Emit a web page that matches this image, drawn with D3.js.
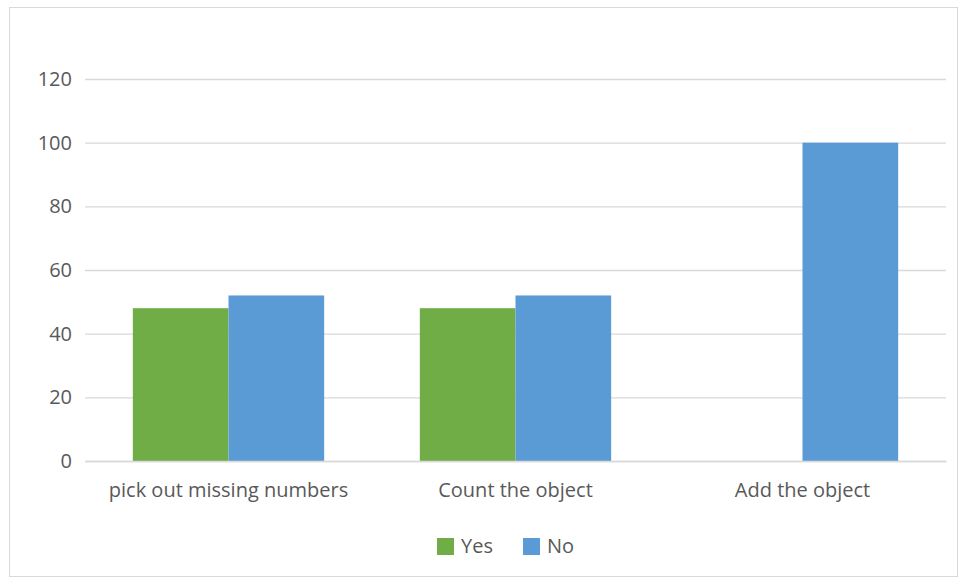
<!DOCTYPE html>
<html>
<head>
<meta charset="utf-8">
<script src="https://cdn.jsdelivr.net/npm/d3@7"></script>
<style>
  html, body { margin: 0; padding: 0; background: #fff; }
  text { font-family: "Open Sans", "Noto Sans", sans-serif; fill: #595959; }
</style>
</head>
<body>
<svg id="chart" width="961" height="579"></svg>
<script>
const categories = ["pick out missing numbers", "Count the object", "Add the object"];
const seriesNames = ["Yes", "No"];
const yesValues = [48, 48, 0];
const noValues = [52, 52, 100];
const yTicks = [0, 20, 40, 60, 80, 100, 120];
const colors = ["#70ad47", "#5b9bd5"];

const svg = d3.select("#chart");

// outer chart frame
svg.append("rect")
  .attr("x", 9.5).attr("y", 7.5)
  .attr("width", 948).attr("height", 569)
  .attr("fill", "#fff").attr("stroke", "#d9d9d9").attr("stroke-width", 1);

const plot = { left: 85, right: 946, top: 79, bottom: 461 };

const x0 = d3.scaleBand().domain(categories).range([plot.left, plot.right]).paddingInner(0).paddingOuter(0);
const x1 = d3.scaleBand().domain(seriesNames).range([0, x0.bandwidth()]).paddingInner(0).paddingOuter(0.5);
const y = d3.scaleLinear().domain([0, 120]).range([plot.bottom, plot.top]);

// horizontal gridlines with value labels
const yAxis = d3.axisLeft(y).tickValues(yTicks).tickSize(-(plot.right - plot.left)).tickPadding(13);
const gy = svg.append("g").attr("transform", `translate(${plot.left},0)`).call(yAxis);
gy.select(".domain").remove();
gy.selectAll(".tick line").attr("stroke", "#d9d9d9").attr("stroke-width", 1.3);
gy.selectAll(".tick text").attr("font-size", 20).style("fill", "#595959");

// bars
const rows = categories.map((c, i) => ({ cat: c, vals: [yesValues[i], noValues[i]] }));
const groups = svg.append("g").selectAll("g").data(rows).join("g")
  .attr("transform", d => `translate(${x0(d.cat)},0)`);
groups.selectAll("rect")
  .data(d => d.vals.map((v, k) => ({ name: seriesNames[k], v, k })))
  .join("rect")
  .attr("x", d => x1(d.name))
  .attr("width", x1.bandwidth())
  .attr("y", d => y(d.v))
  .attr("height", d => y(0) - y(d.v))
  .attr("fill", d => colors[d.k]);

// category axis
const xAxis = d3.axisBottom(x0).tickSize(0).tickPadding(22);
const gx = svg.append("g").attr("transform", `translate(0,${plot.bottom})`).call(xAxis);
gx.select(".domain").attr("stroke", "#d9d9d9").attr("stroke-width", 1.3);
gx.selectAll(".tick text").attr("font-size", 20).style("fill", "#595959");

// legend
const legend = svg.append("g");
const legendX = [437, 523];
seriesNames.forEach((name, k) => {
  legend.append("rect")
    .attr("x", legendX[k]).attr("y", 538)
    .attr("width", 17).attr("height", 17)
    .attr("fill", colors[k]);
  legend.append("text")
    .attr("x", legendX[k] + 24).attr("y", 553)
    .attr("font-size", 20)
    .text(name);
});
</script>
</body>
</html>
